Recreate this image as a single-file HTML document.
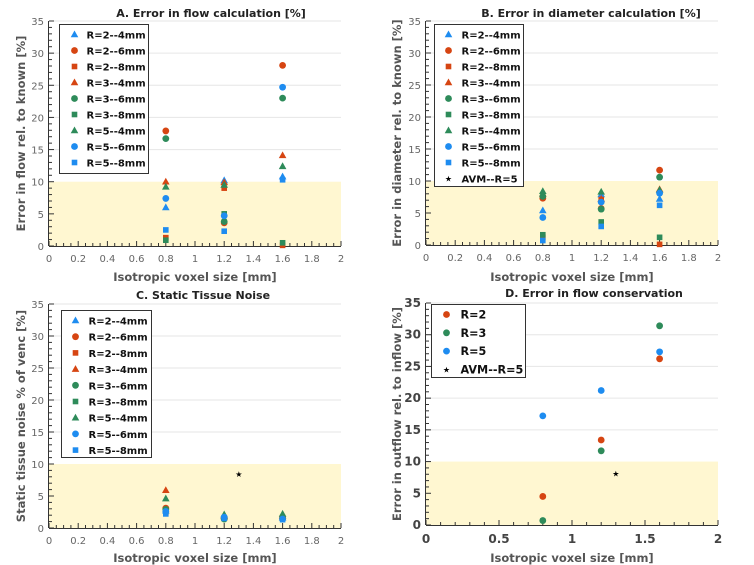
<!DOCTYPE html>
<html><head><meta charset="utf-8"><style>
html,body{margin:0;padding:0;background:#fff;}
svg{display:block;font-family:"DejaVu Sans","Liberation Sans",sans-serif;}
</style></head><body>
<svg id="fig" width="754" height="565" viewBox="0 0 754 565"></svg>
<script>
const BLUE='#1E8CF0', RED='#D64512', GREEN='#2E8B5A';
const seriesNames=['R=2--4mm','R=2--6mm','R=2--8mm','R=3--4mm','R=3--6mm','R=3--8mm','R=5--4mm','R=5--6mm','R=5--8mm'];
const seriesShapes=['tri','circ','sq','tri','circ','sq','tri','circ','sq'];
const seriesColors=[BLUE,RED,RED,RED,GREEN,GREEN,GREEN,BLUE,BLUE];
const voxelSizes=[0.8,1.2,1.6];
// rows = series, cols = voxel sizes
const flowErr=[[6,10.2,10.8],[17.9,3.6,28.1],[1.3,9,0.1],[10,9.9,14.1],[16.7,3.8,23],[0.9,5,0.5],[9.2,9.5,12.4],[7.4,4.7,24.7],[2.5,2.3,10.3]];
const diamErr=[[5.4,7.9,7.2],[7.3,5.7,11.7],[1.2,7.1,0.1],[8,7.2,8.7],[7.6,5.6,10.6],[1.6,3.6,1.2],[8.4,8.3,8.6],[4.3,6.7,8.1],[0.7,2.9,6.2]];
const noise=[[2.7,1.8,1.6],[3.1,1.6,1.7],[2.5,1.5,1.6],[5.9,1.9,1.9],[2.9,1.4,1.5],[2.6,1.6,1.6],[4.6,2.1,2.2],[2.6,1.7,1.4],[2.2,1.5,1.3]];
const avmNoise=[1.3,8.4];
const consNames=['R=2','R=3','R=5'];
const consColors=[RED,GREEN,BLUE];
const consErr=[[4.5,13.4,26.2],[0.7,11.7,31.4],[17.2,21.2,27.3]];
const avmCons=[1.3,8.1];
const yTicks=[0,5,10,15,20,25,30,35];
const xTicksFine=['0','0.2','0.4','0.6','0.8','1','1.2','1.4','1.6','1.8','2'];
const xTicksCoarse=['0','0.5','1','1.5','2'];

const svg=document.getElementById('fig');
const NS='http://www.w3.org/2000/svg';
function mk(tag,attrs,parent,text){const e=document.createElementNS(NS,tag);for(const k in attrs)e.setAttribute(k,attrs[k]);if(text!==undefined)e.textContent=text;(parent||svg).appendChild(e);return e;}

function marker(g,shape,cx,cy,color){
  let e;
  if(shape==='tri') e=mk('polygon',{points:`${cx},${cy-4} ${cx-3.8},${cy+2.8} ${cx+3.8},${cy+2.8}`,fill:color},g);
  else if(shape==='circ') e=mk('circle',{cx:cx,cy:cy,r:3.4,fill:color},g);
  else if(shape==='sq') e=mk('rect',{x:cx-2.8,y:cy-2.8,width:5.6,height:5.6,fill:color},g);
  else e=mk('text',{x:cx,y:cy+3,'text-anchor':'middle','font-size':8,fill:'#000'},g,'★');
  return e;
}

function panel(o){
  const g=mk('g',{});
  
  
  const X=v=>o.x0+(v/2)*(o.x1-o.x0);
  const Y=v=>o.y0-(v/35)*(o.y0-o.y1);
  const band=mk('rect',{x:X(0),y:Y(10),width:X(2)-X(0),height:Y(0)-Y(10),fill:'#FFF7D1'},g);
  
  
  yTicks.forEach(t=>{ if(t>10) mk('line',{x1:X(0),x2:X(2),y1:Y(t),y2:Y(t),stroke:'#e6e6e6','stroke-width':1},g);});
  mk('line',{x1:X(0),x2:X(2),y1:Y(0)+0.5,y2:Y(0)+0.5,stroke:'#333','stroke-width':1},g);
  mk('line',{x1:X(0)-0.5,x2:X(0)-0.5,y1:Y(0),y2:Y(35),stroke:'#333','stroke-width':1},g);
  for(let i=0;i<=35;i++){const L=i%5===0?5:3;mk('line',{x1:X(0),x2:X(0)+L,y1:Y(i),y2:Y(i),stroke:'#333'},g);}
  const fs=o.big?12:10, fw=o.big?'bold':'normal', fc=o.big?'#444':'#666';
  yTicks.forEach(t=>{const e=mk('text',{x:X(0)-5,y:Y(t)+4,'text-anchor':'end','font-size':fs,'font-weight':fw,fill:fc},g,String(t));});
  if(o.big){
    for(let i=0;i<=20;i++){const v=i*0.1;const L=i%5===0?5:3;mk('line',{x1:X(v),x2:X(v),y1:Y(0),y2:Y(0)-L,stroke:'#333'},g);}
    xTicksCoarse.forEach(t=>{const e=mk('text',{x:X(+t),y:Y(0)+18,'text-anchor':'middle','font-size':fs,'font-weight':fw,fill:fc},g,t);});
  } else {
    for(let i=0;i<=40;i++){const v=i*0.05;const L=i%4===0?5:3;mk('line',{x1:X(v),x2:X(v),y1:Y(0),y2:Y(0)-L,stroke:'#333'},g);}
    xTicksFine.forEach(t=>{const e=mk('text',{x:X(+t),y:Y(0)+16,'text-anchor':'middle','font-size':fs,fill:fc},g,t);});
  }
  const ti=mk('text',{x:o.tx,y:o.ty,'text-anchor':'middle','font-size':11,'font-weight':'bold',fill:'#222'},g,o.title);
  
  const xl=mk('text',{x:X(1),y:o.xly,'text-anchor':'middle','font-size':11.5,'font-weight':'bold',fill:'#555'},g,'Isotropic voxel size [mm]');
  
  const ym=(Y(0)+Y(35))/2;
  const yl=mk('text',{x:0,y:0,transform:`translate(${o.ylx},${ym}) rotate(-90)`,'text-anchor':'middle','font-size':11.5,'font-weight':'bold',fill:'#555'},g,o.ylabel);
  
  o.data.forEach((row,si)=>{
    row.forEach((v,xi)=>{
      const m=marker(g,o.shapes[si],X(voxelSizes[xi]),Y(v),o.colors[si]);
      
      
    });
  });
  if(o.avm){const m=marker(g,'star',X(o.avm[0]),Y(o.avm[1]),'#000');}
  const lg=mk('g',{},g);
  
  
  mk('rect',{x:o.lx,y:o.ly,width:o.lw,height:o.lh,fill:'#fff',stroke:'#333','stroke-width':1},lg);
  const items=o.names.map((n,i)=>[n,o.shapes[i],o.colors[i]]);
  if(o.legAvm) items.push(['AVM--R=5','star','#000']);
  items.forEach((it,i)=>{
    const cy=o.ly+o.lf+i*o.ls;
    const eg=mk('g',{},lg);
    
    
    marker(eg,it[1],o.lx+o.mx,cy,it[2]);
    mk('text',{x:o.lx+o.tx2,y:cy+4,'font-size':o.big?11.2:10,'font-weight':'bold',fill:'#111'},eg,it[0]);
  });
}

panel({name:'panel-a-flow-error',x0:49,x1:341,y0:246,y1:21,title:'A. Error in flow calculation [%]',tx:211,ty:17,xly:281,ylx:25,ylabel:'Error in flow rel. to known [%]',
  data:flowErr,names:seriesNames,shapes:seriesShapes,colors:seriesColors,lx:59.5,ly:24.5,lw:89,lh:149,lf:10,ls:16,mx:15,tx2:27});
panel({name:'panel-b-diameter-error',x0:426,x1:718,y0:245,y1:21,title:'B. Error in diameter calculation [%]',tx:591,ty:17,xly:281,ylx:401,ylabel:'Error in diameter rel. to known [%]',
  data:diamErr,names:seriesNames,shapes:seriesShapes,colors:seriesColors,legAvm:true,lx:434.5,ly:24.5,lw:89,lh:162,lf:10,ls:16,mx:14,tx2:27});
panel({name:'panel-c-tissue-noise',x0:49,x1:341,y0:528,y1:304,title:'C. Static Tissue Noise',tx:203,ty:299,xly:562,ylx:25,ylabel:'Static tissue noise % of venc [%]',
  data:noise,names:seriesNames,shapes:seriesShapes,colors:seriesColors,avm:avmNoise,lx:61.5,ly:310.5,lw:90,lh:147,lf:10,ls:16.2,mx:14,tx2:27});
panel({name:'panel-d-flow-conservation',x0:426,x1:718,y0:525,y1:303,title:'D. Error in flow conservation',tx:594,ty:297,xly:562,ylx:401,ylabel:'Error in outflow rel. to inflow [%]',big:true,
  data:consErr,names:consNames,shapes:['circ','circ','circ'],colors:consColors,avm:avmCons,legAvm:true,lx:431.5,ly:304.5,lw:94,lh:73,lf:10,ls:18.3,mx:15,tx2:29});
</script>
</body></html>
